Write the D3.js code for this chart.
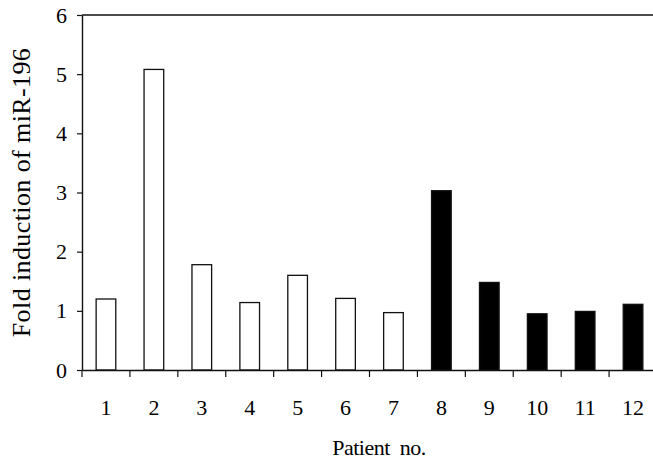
<!DOCTYPE html>
<html>
<head>
<meta charset="utf-8">
<script src="https://cdn.jsdelivr.net/npm/d3@7"></script>
<style>
  body { margin: 0; background: #fff; }
  text { font-family: "Liberation Serif", "Times New Roman", serif; }
</style>
</head>
<body>
<div class="chart"></div>
<script>
// patients 1-7 open bars, 8-12 filled bars
var patients = ["1", "2", "3", "4", "5", "6", "7", "8", "9", "10", "11", "12"];
var foldValues = [1.20, 5.08, 1.78, 1.14, 1.60, 1.21, 0.97, 3.03, 1.48, 0.95, 0.99, 1.11];
var groupKind = ["open", "open", "open", "open", "open", "open", "open", "filled", "filled", "filled", "filled", "filled"];
var yTicks = [0, 1, 2, 3, 4, 5, 6];

var width = 653,
    height = 462,
    plotLeft = 82,
    plotRight = 657,
    plotTop = 15,
    plotBottom = 370;

var svg = d3.select(".chart").append("svg")
    .attr("width", width)
    .attr("height", height);

var x = d3.scaleBand()
    .domain(patients)
    .range([plotLeft, plotRight])
    .paddingInner(0.59)
    .paddingOuter(0.295);

var y = d3.scaleLinear()
    .domain([0, 6])
    .range([plotBottom, plotTop]);

// bars
svg.selectAll("rect.bar")
    .data(foldValues)
  .enter().append("rect")
    .attr("class", "bar")
    .attr("x", function(d, i) { return x(patients[i]); })
    .attr("y", function(d) { return y(d); })
    .attr("width", x.bandwidth())
    .attr("height", function(d) { return y(0) - y(d); })
    .attr("fill", function(d, i) { return groupKind[i] == "filled" ? "#000" : "#fff"; })
    .attr("stroke", "#111")
    .attr("stroke-width", 1.3);

// top frame line
svg.append("line")
    .attr("x1", plotLeft).attr("x2", plotRight)
    .attr("y1", y(6)).attr("y2", y(6))
    .attr("stroke", "#111")
    .attr("stroke-width", 1.4);

// y axis
var yAxis = svg.append("g")
    .attr("transform", "translate(" + plotLeft + ",0)")
    .call(d3.axisLeft(y).tickValues(yTicks).tickFormat(d3.format("d"))
      .tickSize(5).tickSizeOuter(0).tickPadding(10));
yAxis.select(".domain").attr("stroke", "#111").attr("stroke-width", 1.4);
yAxis.selectAll(".tick line").attr("stroke", "#111").attr("stroke-width", 1.2);
yAxis.selectAll("text")
    .attr("font-size", 22)
    .attr("font-family", "Liberation Serif")
    .attr("fill", "#000");

// x axis: labels centred on bars, ticks between bars
var xAxis = svg.append("g")
    .attr("transform", "translate(0," + plotBottom + ")")
    .call(d3.axisBottom(x).tickSize(0).tickSizeOuter(0).tickPadding(29));
xAxis.select(".domain").attr("stroke", "#111").attr("stroke-width", 1.4);
xAxis.selectAll("text")
    .attr("font-size", 22)
    .attr("font-family", "Liberation Serif")
    .attr("fill", "#000");

var gap = (x.step() - x.bandwidth()) / 2;
xAxis.selectAll("line.sep")
    .data(patients)
  .enter().append("line")
    .attr("class", "sep")
    .attr("x1", function(d) { return x(d) - gap; })
    .attr("x2", function(d) { return x(d) - gap; })
    .attr("y1", 0)
    .attr("y2", 7)
    .attr("stroke", "#111")
    .attr("stroke-width", 1.2);

// axis titles
svg.append("text")
    .attr("x", 379)
    .attr("y", 455)
    .attr("text-anchor", "middle")
    .attr("font-size", 22)
    .style("white-space", "pre")
    .style("letter-spacing", "-0.5px")
    .text("Patient  no.");

svg.append("text")
    .attr("transform", "translate(30," + ((plotTop + plotBottom) / 2) + ") rotate(-90)")
    .attr("text-anchor", "middle")
    .attr("font-size", 26)
    .style("letter-spacing", "0.4px")
    .text("Fold induction of miR-196");
</script>
</body>
</html>
